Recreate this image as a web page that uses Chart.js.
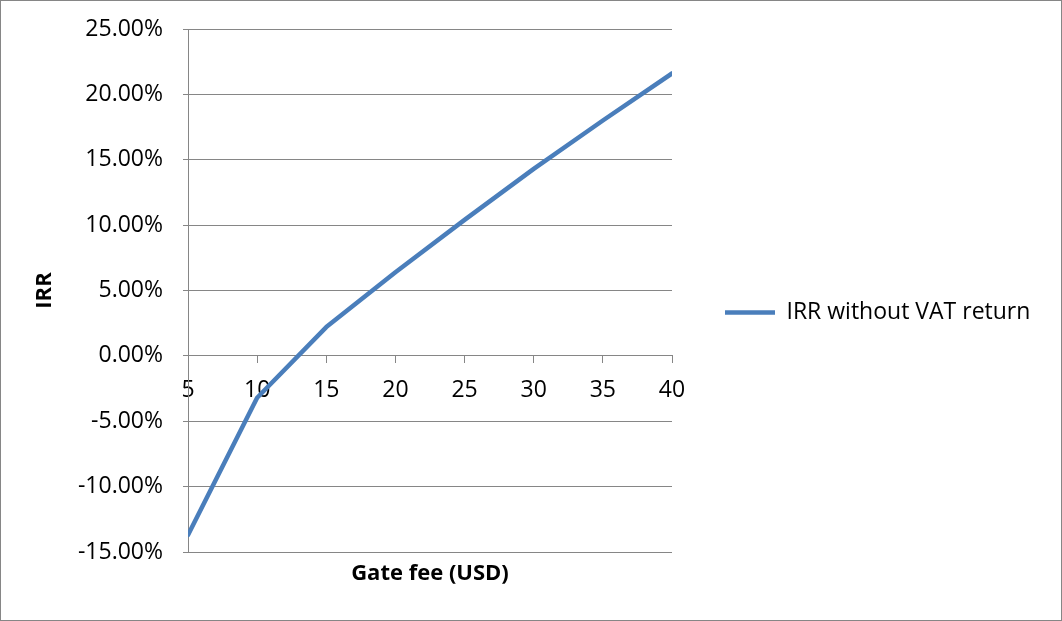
<!DOCTYPE html>
<html lang="en">
<head>
    <meta charset="UTF-8">
    <title>IRR vs Gate fee</title>
    <script src="https://cdn.jsdelivr.net/npm/chart.js"></script>
    <style>
        body {
            margin: 0;
            padding: 0;
            background: #fff;
        }
        .frame {
            width: 1062px;
            height: 621px;
            box-sizing: border-box;
            border: 1px solid #868686;
            position: relative;
        }
    </style>
</head>
<body>
    <div class="frame">
        <canvas id="irrChart"></canvas>
    </div>
    <script>
// Data
const gateFees = [5, 10, 15, 20, 25, 30, 35, 40];
const irrWithoutVat = [-13.7, -3.2, 2.2, 6.4, 10.4, 14.3, 18.0, 21.6];   // percent
const seriesLabel = 'IRR without VAT return';

const gridGray = '#868686';
const lineBlue = '#4A7EBB';
const fontFamily = "'Open Sans', 'Liberation Sans', sans-serif";

// give the legend a fixed width so the plot ends where the reference does
const legendWidth = {
    id: 'legendWidth',
    afterInit(chart) {
        const legend = chart.legend;
        if (!legend) return;
        const fit = legend.fit;
        legend.fit = function () {
            fit.call(this);
            this.width = 389;
        };
    }
};

new Chart(document.getElementById('irrChart'), {
    type: 'line',
    data: {
        datasets: [{
            label: seriesLabel,
            data: gateFees.map((x, i) => ({ x: x, y: irrWithoutVat[i] })),
            borderColor: lineBlue,
            backgroundColor: lineBlue,
            borderWidth: 4.5,
            borderCapStyle: 'round',
            borderJoinStyle: 'round',
            pointRadius: 0,
            pointHoverRadius: 0,
            tension: 0,
            fill: false
        }]
    },
    options: {
        responsive: true,
        maintainAspectRatio: false,
        animation: false,
        layout: { padding: { top: 28, left: 0, right: 0, bottom: 24 } },
        plugins: {
            tooltip: { enabled: false },
            legend: {
                position: 'right',
                labels: {
                    usePointStyle: true,
                    pointStyle: 'line',
                    pointStyleWidth: 50,
                    padding: 53,
                    color: '#000',
                    font: { family: fontFamily, size: 23 }
                }
            }
        },
        scales: {
            x: {
                type: 'linear',
                position: { y: 0 },
                min: 5,
                max: 40,
                afterFit: (s) => { s.height = 0; },
                ticks: {
                    stepSize: 5,
                    color: '#000',
                    padding: 14,
                    maxRotation: 0,
                    autoSkip: false,
                    font: { family: fontFamily, size: 23 }
                },
                grid: {
                    drawOnChartArea: false,
                    color: gridGray,
                    tickLength: 7
                },
                border: { color: gridGray }
            },
            x2: {
                type: 'linear',
                position: 'bottom',
                min: 5,
                max: 40,
                afterFit: (s) => { s.height = 44; },
                ticks: { display: false },
                grid: { display: false },
                border: { display: false },
                title: {
                    display: true,
                    text: 'Gate fee (USD)',
                    color: '#000',
                    padding: { top: 0, bottom: 9 },
                    font: { family: fontFamily, size: 22, weight: 'bold' }
                }
            },
            y: {
                min: -15,
                max: 25,
                afterFit: (s) => {
                    s.width = 187;
                    s.paddingTop = 0;
                    s.paddingBottom = 0;
                },
                ticks: {
                    stepSize: 5,
                    color: '#000',
                    padding: 20,
                    font: { family: fontFamily, size: 23 },
                    callback: (v) => v.toFixed(2) + '%'
                },
                grid: {
                    color: gridGray,
                    tickLength: 5
                },
                border: { color: gridGray },
                title: {
                    display: true,
                    text: 'IRR',
                    color: '#000',
                    padding: { top: 31, bottom: 0 },
                    font: { family: fontFamily, size: 22, weight: 'bold' }
                }
            }
        }
    },
    plugins: [legendWidth]
});
    </script>
</body>
</html>
